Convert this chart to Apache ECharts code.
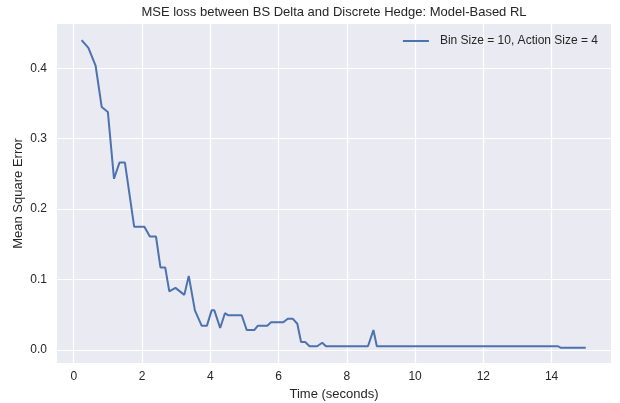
<!DOCTYPE html>
<html>
<head>
<meta charset="utf-8">
<script src="https://cdn.jsdelivr.net/npm/echarts@6/dist/echarts.min.js"></script>
<style>
  html, body { margin: 0; padding: 0; background: #ffffff; }
  #chart { width: 620px; height: 403px; }
</style>
</head>
<body>
<div id="chart"></div>
<script>
// Hedging error over time for the model-based RL agent
const timeSeconds = [0.23, 0.43, 0.64, 0.82, 1.0, 1.18, 1.34, 1.5, 1.77, 2.07, 2.23, 2.41, 2.54, 2.68, 2.8, 2.98,
  3.24, 3.37, 3.55, 3.75, 3.9, 4.04, 4.12, 4.29, 4.43, 4.53, 4.92, 5.07, 5.29, 5.39, 5.67, 5.78, 6.14,
  6.27, 6.42, 6.55, 6.66, 6.78, 6.91, 7.13, 7.28, 7.39, 8.62, 8.78, 8.88, 14.19, 14.26, 15.0];
const mseValues = [0.440, 0.429, 0.404, 0.345, 0.338, 0.243, 0.266, 0.266, 0.175, 0.175, 0.161, 0.161, 0.117, 0.117, 0.083, 0.088,
  0.078, 0.105, 0.056, 0.034, 0.034, 0.056, 0.056, 0.031, 0.052, 0.049, 0.049, 0.028, 0.028, 0.034, 0.034, 0.039, 0.039,
  0.044, 0.044, 0.037, 0.011, 0.011, 0.005, 0.005, 0.010, 0.005, 0.005, 0.028, 0.005, 0.005, 0.003, 0.003];
const seriesName = 'Bin Size = 10, Action Size = 4';
const xTicks = [0, 2, 4, 6, 8, 10, 12, 14];
const yTicks = [0.0, 0.1, 0.2, 0.3, 0.4];

const TEXT = '#262626';
const FONT = 'Liberation Sans, Arial, sans-serif';

const chart = echarts.init(document.getElementById('chart'), null, { renderer: 'canvas' });
chart.setOption({
  animation: false,
  backgroundColor: '#ffffff',
  title: {
    text: 'MSE loss between BS Delta and Discrete Hedge: Model-Based RL',
    left: 334, top: 6, textAlign: 'center', padding: 0,
    textStyle: { fontFamily: FONT, fontSize: 13, fontWeight: 'normal', color: TEXT }
  },
  legend: {
    right: 22, top: 35, padding: 0,
    icon: 'rect',
    itemWidth: 26, itemHeight: 2, itemGap: 8,
    textStyle: { fontFamily: FONT, fontSize: 12, color: TEXT, padding: [0, 0, 0, 6] }
  },
  grid: { left: 57, right: 9, top: 24, bottom: 40, outerBoundsMode: 'none', containLabel: false,
    show: true, backgroundColor: '#EAEAF2', borderWidth: 0 },
  xAxis: {
    type: 'value', min: -0.49, max: 15.74,
    name: 'Time (seconds)', nameLocation: 'middle', nameGap: 23,
    nameTextStyle: { fontFamily: FONT, fontSize: 13, color: TEXT },
    axisLine: { show: false },
    axisTick: { show: false, customValues: xTicks },
    axisLabel: { customValues: xTicks, fontFamily: FONT, fontSize: 12, color: TEXT, margin: 8,
      formatter: v => String(v) },
    splitLine: { show: true, lineStyle: { color: '#ffffff', width: 1.2 } }
  },
  yAxis: {
    type: 'value', min: -0.0188, max: 0.463,
    name: 'Mean Square Error', nameLocation: 'middle', nameGap: 32, nameMoveOverlap: false,
    nameTextStyle: { fontFamily: FONT, fontSize: 13, color: TEXT },
    axisLine: { show: false },
    axisTick: { show: false, customValues: yTicks },
    axisLabel: { customValues: yTicks, fontFamily: FONT, fontSize: 12, color: TEXT, margin: 10,
      formatter: v => v.toFixed(1) },
    splitLine: { show: true, lineStyle: { color: '#ffffff', width: 1.2 } }
  },
  series: [{
    name: seriesName,
    type: 'line',
    data: timeSeconds.map((t, i) => [t, mseValues[i]]),
    showSymbol: false,
    symbol: 'none',
    lineStyle: { color: '#4C72B0', width: 2 },
    itemStyle: { color: '#4C72B0' }
  }]
});
</script>
</body>
</html>
